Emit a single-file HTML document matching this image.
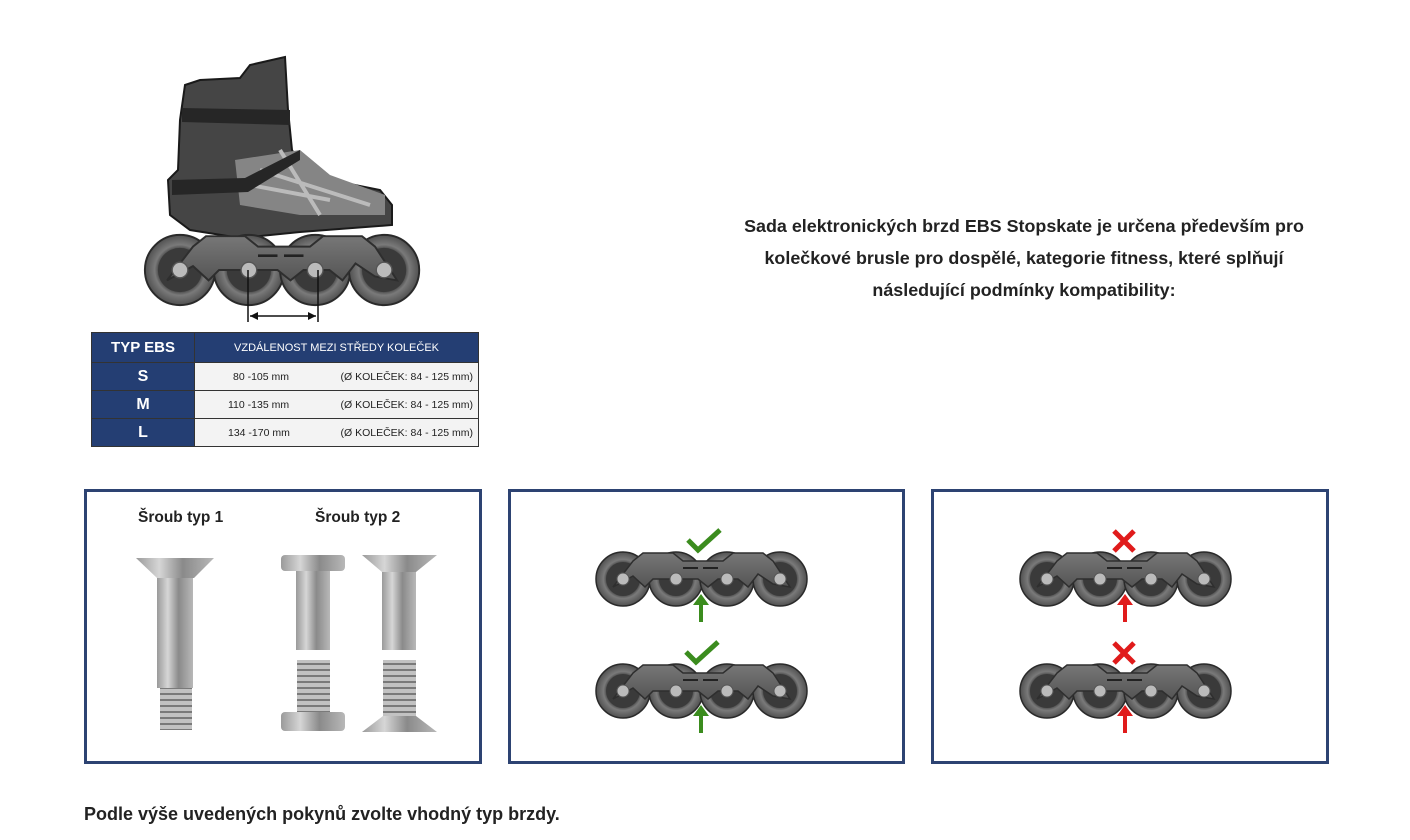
<!DOCTYPE html>
<html><head><meta charset="utf-8"><style>
body{margin:0;width:1410px;height:840px;background:#fff;font-family:"Liberation Sans",sans-serif;position:relative;overflow:hidden}
.p{position:absolute;border:3px solid #2d4372;box-sizing:border-box}
.t{position:absolute;font-weight:bold;color:#222}
td{white-space:nowrap;padding:0}
</style></head><body>
<svg width="1410" height="840" style="position:absolute;left:0;top:0">
<defs>
<radialGradient id="wg"><stop offset="0.55" stop-color="#333"/><stop offset="0.72" stop-color="#7a7a7a"/><stop offset="1" stop-color="#505050"/></radialGradient>
<linearGradient id="fg" x1="0" y1="0" x2="0" y2="1"><stop offset="0" stop-color="#777"/><stop offset="1" stop-color="#555"/></linearGradient>
<linearGradient id="mg" x1="0" y1="0" x2="1" y2="0"><stop offset="0" stop-color="#9a9a9a"/><stop offset="0.3" stop-color="#d6d6d6"/><stop offset="0.6" stop-color="#8a8a8a"/><stop offset="1" stop-color="#b8b8b8"/></linearGradient>
<pattern id="th" width="10" height="6" patternUnits="userSpaceOnUse"><rect width="10" height="6" fill="#c2c2c2"/><rect y="3" width="10" height="2" fill="#7a7a7a"/></pattern>
<g id="wh"><circle r="27" fill="url(#wg)" stroke="#2a2a2a" stroke-width="1.5"/><circle r="17" fill="#3a3a3a"/><circle r="6" fill="#bbb" stroke="#555"/><circle r="2.5" fill="#666"/></g>
<g id="fr">
<use href="#wh" x="0"/><use href="#wh" x="53"/><use href="#wh" x="104"/><use href="#wh" x="157"/>
<path d="M-10,8 L10,-18 L20,-26 L50,-26 L60,-18 L100,-18 L110,-26 L140,-26 L150,-18 L167,8 L150,5 L135,-5 L125,8 L115,0 L95,0 L85,8 L75,0 L30,0 L22,8 L10,-3 Z" fill="url(#fg)" stroke="#2e2e2e" stroke-width="1.5"/>
<circle cx="0" r="6" fill="#bbb" stroke="#555"/><circle cx="53" r="6" fill="#bbb" stroke="#555"/><circle cx="104" r="6" fill="#bbb" stroke="#555"/><circle cx="157" r="6" fill="#bbb" stroke="#555"/>
<rect x="60" y="-12" width="15" height="2" fill="#222"/><rect x="80" y="-12" width="15" height="2" fill="#222"/>
</g>
</defs>
<path d="M185,85 L200,80 L240,78 L250,65 L285,57 L288,110 L292,150 L300,165 L330,180 L380,190 L392,205 L392,225 L300,232 L240,238 L190,230 L170,215 L168,180 L178,170 L180,120 Z" fill="#454545" stroke="#1a1a1a" stroke-width="2"/>
<path d="M235,160 L300,150 L330,175 L385,195 L385,215 L300,215 L240,205 Z" fill="#858585"/>
<path d="M250,185 L330,200 M260,170 L370,205 M280,150 L320,215" stroke="#bbb" stroke-width="4"/>
<path d="M172,180 L245,178 L300,150 L300,160 L248,192 L172,195 Z" fill="#262626"/>
<path d="M182,108 L290,110 L290,125 L182,122 Z" fill="#262626"/>
<g transform="translate(180,270) scale(1.3)"><use href="#fr"/></g>
<path d="M248,270 V322 M318,270 V322 M250,316 H316" stroke="#111" stroke-width="1.5"/>
<path d="M250,316 l8,-4 v8z M316,316 l-8,-4 v8z" fill="#111"/>
<g transform="translate(623,579)"><use href="#fr"/></g>
<g transform="translate(623,691)"><use href="#fr"/></g>
<g transform="translate(1047,579)"><use href="#fr"/></g>
<g transform="translate(1047,691)"><use href="#fr"/></g>
<path d="M688,540 l10,10 l22,-20 M686,652 l10,10 l22,-20" stroke="#3b8c1e" stroke-width="5" fill="none"/>
<path d="M701,622 V603 M701,733 V714" stroke="#3b8c1e" stroke-width="4"/>
<path d="M693,605 l8,-11 l8,11z M693,716 l8,-11 l8,11z" fill="#3b8c1e"/>
<path d="M1114,531 l20,20 M1134,531 l-20,20 M1114,643 l20,20 M1134,643 l-20,20" stroke="#e01b1b" stroke-width="5"/>
<path d="M1125,622 V603 M1125,733 V714" stroke="#e01b1b" stroke-width="4"/>
<path d="M1117,605 l8,-11 l8,11z M1117,716 l8,-11 l8,11z" fill="#e01b1b"/>
<path d="M136,558 H214 L194,578 H157 Z" fill="url(#mg)"/>
<rect x="157" y="578" width="36" height="110" fill="url(#mg)"/>
<rect x="160" y="688" width="32" height="42" fill="url(#th)"/>
<rect x="281" y="555" width="64" height="16" rx="4" fill="url(#mg)"/>
<rect x="296" y="571" width="34" height="79" fill="url(#mg)"/>
<rect x="297" y="660" width="33" height="52" fill="url(#th)"/>
<rect x="281" y="712" width="64" height="19" rx="4" fill="url(#mg)"/>
<path d="M362,555 H437 L416,572 H382 Z" fill="url(#mg)"/>
<rect x="382" y="572" width="34" height="78" fill="url(#mg)"/>
<rect x="383" y="660" width="33" height="56" fill="url(#th)"/>
<path d="M383,716 H416 L437,732 H362 Z" fill="url(#mg)"/>
</svg>
<table style="position:absolute;left:91px;top:332px;width:387px;border-collapse:collapse;table-layout:fixed;font-family:'Liberation Sans',sans-serif;font-size:10.5px;color:#222">
<colgroup><col style="width:103px"><col style="width:145px"><col style="width:139px"></colgroup>
<tr style="height:30px;background:#243e73;color:#fff"><td style="text-align:center;font-weight:bold;font-size:15px;border:1px solid #333">TYP EBS</td><td colspan="2" style="text-align:center;font-size:11px;border:1px solid #333">VZDÁLENOST MEZI STŘEDY KOLEČEK</td></tr>
<tr style="height:28px;background:#f3f3f3"><td style="background:#243e73;color:#fff;text-align:center;font-weight:bold;font-size:16px;border:1px solid #333">S</td><td style="padding-left:38px;border-top:1px solid #333">80 -105 mm</td><td style="padding-left:1px;border-right:1px solid #333;border-top:1px solid #333">(Ø KOLEČEK: 84 - 125 mm)</td></tr>
<tr style="height:28px;background:#f3f3f3"><td style="background:#243e73;color:#fff;text-align:center;font-weight:bold;font-size:16px;border:1px solid #333">M</td><td style="padding-left:33px;border-top:1px solid #333">110 -135 mm</td><td style="padding-left:1px;border-right:1px solid #333;border-top:1px solid #333">(Ø KOLEČEK: 84 - 125 mm)</td></tr>
<tr style="height:28px;background:#f3f3f3"><td style="background:#243e73;color:#fff;text-align:center;font-weight:bold;font-size:16px;border:1px solid #333">L</td><td style="padding-left:33px;border-top:1px solid #333;border-bottom:1px solid #333">134 -170 mm</td><td style="padding-left:1px;border-right:1px solid #333;border-top:1px solid #333;border-bottom:1px solid #333">(Ø KOLEČEK: 84 - 125 mm)</td></tr>
</table>
<div class="t" style="left:680px;top:210px;width:688px;text-align:center;font-size:17.9px;line-height:32px">Sada elektronických brzd EBS Stopskate je určena především pro<br>kolečkové brusle pro dospělé, kategorie fitness, které splňují<br>následující podmínky kompatibility:</div>
<div class="p" style="left:84px;top:489px;width:398px;height:275px"></div>
<div class="p" style="left:508px;top:489px;width:397px;height:275px"></div>
<div class="p" style="left:931px;top:489px;width:398px;height:275px"></div>
<div class="t" style="left:138px;top:509px;font-size:15.5px">Šroub typ 1</div>
<div class="t" style="left:315px;top:509px;font-size:15.5px">Šroub typ 2</div>
<div class="t" style="left:84px;top:804px;font-size:18px">Podle výše uvedených pokynů zvolte vhodný typ brzdy.</div>
</body></html>
